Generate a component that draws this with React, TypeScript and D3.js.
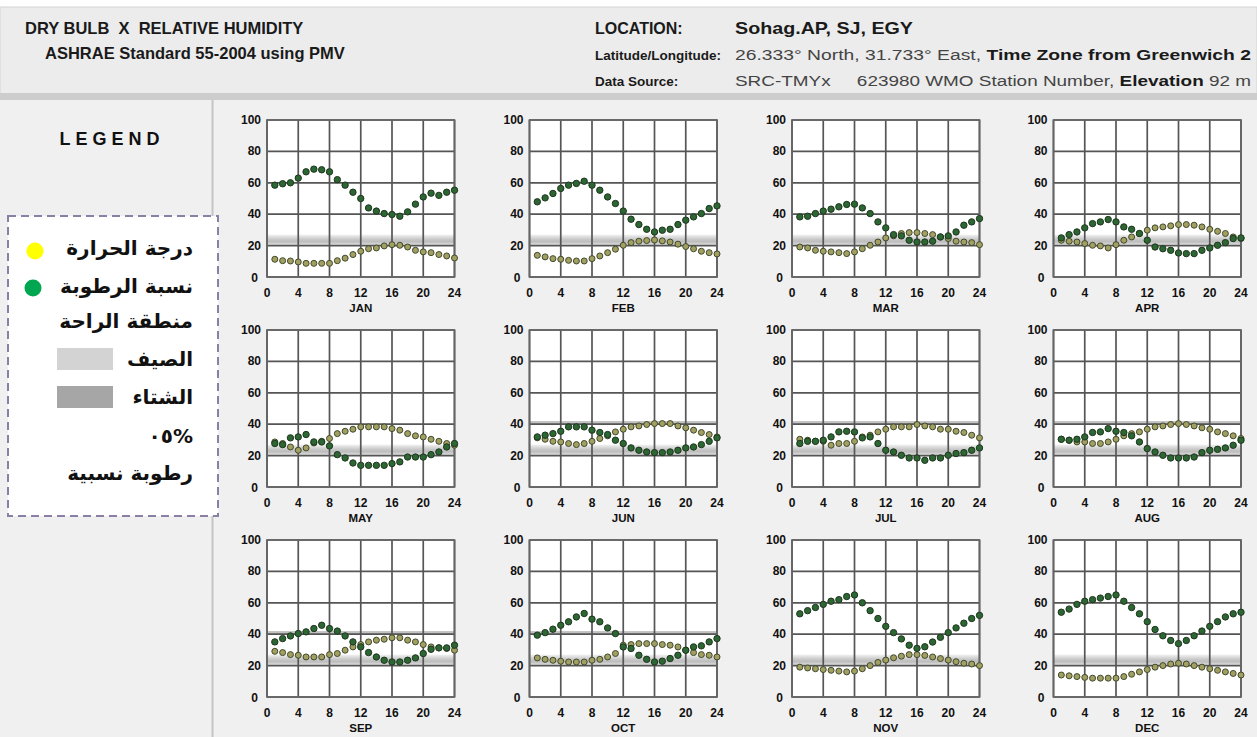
import React, { useEffect, useRef } from 'react';
import * as d3 from 'd3';

// month panels, 4 per row
const months = ['JAN', 'FEB', 'MAR', 'APR', 'MAY', 'JUN', 'JUL', 'AUG', 'SEP', 'OCT', 'NOV', 'DEC'];
const hours = [1, 2, 3, 4, 5, 6, 7, 8, 9, 10, 11, 12, 13, 14, 15, 16, 17, 18, 19, 20, 21, 22, 23, 24];
const xTicks = [0, 4, 8, 12, 16, 20, 24];
const yTicks = [0, 20, 40, 60, 80, 100];

// dry bulb temperature (°C) by hour, one row per month
const dryBulb: number[][] = [
  [11.3, 10.4, 10.2, 9.6, 8.7, 8.7, 8.7, 8.7, 10.4, 12, 14.3, 16.4, 18, 18.5, 19.8, 20.6, 20.2, 19.1, 17, 16, 15.5, 14.3, 13.4, 12.1],
  [13.8, 12.8, 11.7, 11.3, 10.6, 10.2, 10.2, 11.7, 13.4, 15.5, 17.7, 20.2, 21.9, 22.8, 23.2, 23.6, 23, 22.3, 20.9, 19.4, 18, 16.4, 15.5, 14.7],
  [19.1, 18.5, 17, 16.4, 16, 15.5, 14.9, 16, 18, 20.2, 22.3, 24.9, 26.2, 27.7, 28.3, 28.3, 27.7, 27, 25.5, 24.5, 22.8, 22.3, 21.9, 20.6],
  [23.4, 22.8, 22.3, 21.3, 20.2, 19.8, 18.5, 20.6, 23.4, 25.5, 27.7, 29.8, 31.3, 31.9, 32.6, 33.4, 33.4, 33, 31.9, 30.4, 29.1, 27.7, 25.5, 24.5],
  [28.7, 27.7, 25.5, 23.4, 24.9, 28, 29.1, 30.9, 34, 35.5, 36.8, 38.3, 38.3, 38.3, 38.3, 37.2, 36.2, 34, 32.6, 31.9, 30.4, 29.1, 27.7, 26.6],
  [31.3, 30.4, 29.1, 28.7, 27.7, 27, 27.7, 29.1, 30.9, 32.6, 35.1, 36.8, 38.3, 38.9, 39.8, 40.4, 40.4, 40.4, 38.9, 37.7, 36.2, 34.7, 33.4, 31.9],
  [30.4, 29.8, 29.1, 29.1, 26.6, 27.7, 27.7, 29.1, 31.9, 33, 35.1, 36.8, 38.3, 38.3, 38.3, 39.8, 38.9, 38.3, 36.8, 36.8, 35.5, 34.7, 33, 31.3],
  [30.4, 29.8, 28.7, 28.7, 27.7, 27.7, 28.7, 30.4, 32.6, 34, 35.1, 36.8, 38.3, 38.9, 39.8, 40.4, 39.8, 38.9, 37.7, 36.8, 35.1, 34, 32.6, 30.9],
  [29.1, 28.3, 27, 26.6, 25.5, 25.5, 25.5, 27, 27.7, 29.8, 31.9, 33.4, 35.1, 36.2, 36.8, 37.7, 37.7, 36.2, 35.1, 33.4, 31.9, 31.3, 30.9, 29.8],
  [24.9, 24, 23.4, 22.8, 22.3, 22.3, 22.3, 23.4, 24, 25.5, 27.7, 33, 33.4, 34, 34, 34, 33.4, 33, 31.9, 29.8, 28.3, 27, 26.6, 25.5],
  [19, 18.5, 18, 17.5, 17, 16.5, 16, 16.5, 18, 20, 22, 23.5, 25, 26, 27, 27, 26.5, 25.5, 24.5, 23.5, 22.5, 21.5, 21, 20],
  [14, 13.5, 13, 12.5, 12, 12, 12, 12, 13, 14.5, 16, 17.5, 19, 20, 21, 21.5, 21, 20, 19, 18, 17, 16, 15, 14],
];

// relative humidity (%) by hour, one row per month
const relHumidity: number[][] = [
  [58.5, 59.4, 60, 63, 67, 68.7, 68.3, 67, 62, 58.5, 54, 50, 44, 42, 40.4, 39.8, 38.7, 41.5, 46.4, 51, 53.4, 52, 54, 55.3],
  [47.9, 50.4, 53.2, 56.4, 58.5, 59.6, 61, 58.5, 55.3, 51, 46.8, 42, 36.8, 33.4, 30.4, 28.7, 29.8, 30.4, 33.4, 36.2, 38.3, 40.4, 43.6, 45.3],
  [38.3, 38.7, 40.4, 42, 43.2, 44.7, 46.2, 46.4, 44, 40.4, 35.1, 31.3, 27, 26.2, 23.4, 22.3, 22.3, 22.8, 25.5, 26.2, 28.7, 33, 35.1, 37.2],
  [24.9, 27, 28.7, 31.3, 34, 35.1, 36.6, 35.1, 31.9, 30.4, 27.7, 23.4, 19.1, 18, 17, 15.3, 14.9, 14.9, 17, 18.5, 20.2, 21.9, 24.5, 24.9],
  [27.7, 27, 31.3, 31.9, 33.4, 28.7, 28.7, 26.2, 20.6, 18.5, 15.3, 13.8, 13.8, 13.8, 13.8, 14.9, 16, 19.1, 19.1, 19.1, 20.6, 22.3, 25.5, 27.7],
  [31.9, 33, 34, 35.5, 38.3, 38.3, 38.3, 36.2, 34.7, 33.4, 29.8, 27.7, 24.9, 23.4, 22.3, 21.9, 21.9, 22.3, 23.4, 24.9, 25.5, 27, 29.1, 31.3],
  [27.7, 29.1, 29.1, 29.8, 31.9, 35.1, 35.5, 35.1, 31.3, 31.9, 27.7, 23.4, 22.3, 20.2, 18.5, 18.5, 17, 18.5, 18.5, 20.2, 21.3, 21.9, 23.4, 24.9],
  [30.4, 29.8, 30.4, 31.9, 34.7, 35.1, 37.2, 35.5, 34.7, 32.6, 28.7, 24.5, 22.3, 20.2, 18.5, 18.5, 18.5, 19.1, 21.9, 23.4, 24, 24.9, 26.6, 29.8],
  [35.1, 37.2, 38.9, 40.4, 41.5, 43.6, 45.7, 43.6, 42, 38.9, 35.1, 31.9, 28.3, 25.5, 23.4, 22.3, 22.3, 23.4, 24.9, 27.7, 30.4, 31.3, 31.3, 33],
  [39.4, 41, 43.2, 45.7, 47.9, 51, 53.2, 49.6, 47.9, 44, 40.4, 31.9, 30.9, 26.6, 24, 22.3, 22.8, 24.5, 26.6, 29.8, 31.9, 32.6, 35.1, 37.2],
  [53, 55, 57, 59, 61, 62, 64, 65, 60, 55, 50, 45, 41, 37, 33, 31, 32, 35, 38, 41, 44, 47, 50, 52],
  [54, 56, 59, 61, 62, 63, 64, 65, 61, 57, 53, 48, 43, 39, 36, 34, 36, 39, 42, 45, 48, 51, 53, 54],
];

// comfort zone band and the summer upper edge
const comfortBand = [20.5, 27];
const summerEdge = [39.5, 42];
const summerMonths = ['JUN', 'JUL', 'AUG', 'SEP', 'OCT'];

const legendItems = ['درجة الحرارة', 'نسبة الرطوبة', 'منطقة الراحة', 'الصيف', 'الشتاء', '٠٥%', 'رطوبة نسبية'];

const W = 1257;
const H = 737;

const App = () => {
  const svgRef = useRef<SVGSVGElement>(null);

  useEffect(() => {
    if (!svgRef.current) return;
    const svg = d3.select(svgRef.current);
    svg.selectAll('*').remove();

    const defs = svg.append('defs');
    const grad = defs.append('linearGradient').attr('id', 'band').attr('x1', 0).attr('y1', 0).attr('x2', 0).attr('y2', 1);
    grad.append('stop').attr('offset', '0%').attr('stop-color', '#f2f2f2');
    grad.append('stop').attr('offset', '45%').attr('stop-color', '#c9c9c9');
    grad.append('stop').attr('offset', '70%').attr('stop-color', '#bdbdbd');
    grad.append('stop').attr('offset', '100%').attr('stop-color', '#dedede');

    // backgrounds
    svg.append('rect').attr('width', W).attr('height', H).attr('fill', '#f0f0f0');
    svg.append('rect').attr('x', 0).attr('y', 0).attr('width', W).attr('height', 7).attr('fill', '#ffffff');
    svg.append('rect').attr('x', 0).attr('y', 7).attr('width', W).attr('height', 87)
      .attr('fill', '#ececec').attr('stroke', '#d4d4d4');
    svg.append('rect').attr('x', 0).attr('y', 93).attr('width', W).attr('height', 7).attr('fill', '#cdcdcd');
    svg.append('line').attr('x1', 212.5).attr('x2', 212.5).attr('y1', 100).attr('y2', H)
      .attr('stroke', '#c4c4c4').attr('stroke-width', 2);

    // header
    const font = '"Liberation Sans", Arial, sans-serif';
    const hdr = svg.append('g').attr('font-family', font).attr('fill', '#1a1a1a');
    hdr.append('text').attr('x', 25).attr('y', 34).attr('font-size', 16.5).attr('font-weight', 'bold')
      .attr('xml:space', 'preserve').text('DRY BULB  X  RELATIVE HUMIDITY');
    hdr.append('text').attr('x', 45).attr('y', 59).attr('font-size', 16.5).attr('font-weight', 'bold')
      .text('ASHRAE Standard 55-2004 using PMV');
    hdr.append('text').attr('x', 595).attr('y', 34).attr('font-size', 16).attr('font-weight', 'bold').text('LOCATION:');
    hdr.append('text').attr('x', 735).attr('y', 34).attr('font-size', 17).attr('font-weight', 'bold')
      .attr('textLength', 178).attr('lengthAdjust', 'spacingAndGlyphs').text('Sohag.AP, SJ, EGY');
    hdr.append('text').attr('x', 595).attr('y', 60).attr('font-size', 13.5).attr('font-weight', 'bold').text('Latitude/Longitude:');
    hdr.append('text').attr('x', 595).attr('y', 86).attr('font-size', 13.5).attr('font-weight', 'bold').text('Data Source:');
    const l1 = hdr.append('text').attr('x', 735).attr('y', 60).attr('font-size', 14).attr('xml:space', 'preserve')
      .attr('textLength', 516).attr('lengthAdjust', 'spacingAndGlyphs');
    l1.append('tspan').attr('fill', '#444').text('26.333° North, 31.733° East, ');
    l1.append('tspan').attr('font-weight', 'bold').text('Time Zone from Greenwich 2');
    const l2 = hdr.append('text').attr('x', 735).attr('y', 86).attr('font-size', 14).attr('xml:space', 'preserve')
      .attr('textLength', 516).attr('lengthAdjust', 'spacingAndGlyphs');
    l2.append('tspan').attr('fill', '#444').text('SRC-TMYx     623980 WMO Station Number, ');
    l2.append('tspan').attr('font-weight', 'bold').text('Elevation');
    l2.append('tspan').attr('fill', '#444').text(' 92 m');

    // legend column
    svg.append('text').attr('x', 112).attr('y', 145).attr('text-anchor', 'middle')
      .attr('font-family', font).attr('font-weight', 'bold').attr('font-size', 18)
      .attr('letter-spacing', 5).attr('fill', '#111').text('LEGEND');
    svg.append('rect').attr('x', 8).attr('y', 216).attr('width', 210).attr('height', 300)
      .attr('fill', '#ffffff').attr('stroke', '#8a80a6').attr('stroke-width', 2).attr('stroke-dasharray', '8,5');

    const arFont = '"DejaVu Sans", "Noto Sans", sans-serif';
    const legendY = [255, 293, 328, 366, 404, 443, 480];
    const lg = svg.append('g').attr('font-family', arFont).attr('font-weight', 'bold').attr('font-size', 20).attr('fill', '#111');
    legendItems.forEach((t, i) => {
      const txt = lg.append('text').attr('x', 193).attr('y', legendY[i]).attr('text-anchor', 'end').text(t);
      if (i === 5) txt.attr('style', 'unicode-bidi: bidi-override; direction: ltr');
    });
    svg.append('circle').attr('cx', 35).attr('cy', 251).attr('r', 8.5).attr('fill', '#ffff00');
    svg.append('circle').attr('cx', 33).attr('cy', 288).attr('r', 8.5).attr('fill', '#00a650');
    svg.append('rect').attr('x', 57).attr('y', 348).attr('width', 56).attr('height', 22).attr('fill', '#d3d3d3');
    svg.append('rect').attr('x', 57).attr('y', 386).attr('width', 56).attr('height', 22).attr('fill', '#a6a6a6');

    // panels
    const pw = 187.5;
    const ph = 157;
    const colX = [267, 529.5, 792, 1053.5];
    const rowY = [120, 330, 540];
    const x = d3.scaleLinear().domain([0, 24]).range([0, pw]);
    const y = d3.scaleLinear().domain([0, 100]).range([ph, 0]);

    months.forEach((m, mi) => {
      const g = svg.append('g')
        .attr('transform', `translate(${colX[mi % 4]},${rowY[Math.floor(mi / 4)]})`);
      g.append('rect').attr('width', pw).attr('height', ph).attr('fill', '#ffffff');

      g.append('rect').attr('x', 0).attr('width', pw)
        .attr('y', y(comfortBand[1])).attr('height', y(comfortBand[0]) - y(comfortBand[1]))
        .attr('fill', 'url(#band)');
      if (summerMonths.includes(m)) {
        g.append('rect').attr('x', 0).attr('width', pw)
          .attr('y', y(summerEdge[1])).attr('height', y(summerEdge[0]) - y(summerEdge[1]))
          .attr('fill', '#c2c2c2');
      }

      g.selectAll('.gx').data(xTicks).enter().append('line')
        .attr('x1', d => x(d)).attr('x2', d => x(d)).attr('y1', 0).attr('y2', ph)
        .attr('stroke', '#555').attr('stroke-width', 1.7);
      g.selectAll('.gy').data(yTicks).enter().append('line')
        .attr('x1', 0).attr('x2', pw).attr('y1', d => y(d)).attr('y2', d => y(d))
        .attr('stroke', '#555').attr('stroke-width', 1.7);
      g.append('rect').attr('width', pw).attr('height', ph).attr('fill', 'none')
        .attr('stroke', '#666').attr('stroke-width', 1.7);

      g.selectAll('.yl').data(yTicks).enter().append('text')
        .attr('x', d => (d === 0 ? -9 : -6)).attr('y', d => y(d) + (d === 0 ? 5 : 4))
        .attr('text-anchor', 'end').attr('font-family', font).attr('font-weight', 'bold')
        .attr('font-size', 12).attr('fill', '#111').text(d => d);
      g.selectAll('.xl').data(xTicks).enter().append('text')
        .attr('x', d => x(d)).attr('y', ph + 20)
        .attr('text-anchor', 'middle').attr('font-family', font).attr('font-weight', 'bold')
        .attr('font-size', 12).attr('fill', '#111').text(d => d);
      g.append('text').attr('x', pw / 2).attr('y', ph + 35).attr('text-anchor', 'middle')
        .attr('font-family', font).attr('font-weight', 'bold').attr('font-size', 11.5)
        .attr('fill', '#111').text(m);

      g.selectAll('.t').data(hours).enter().append('circle')
        .attr('cx', h => x(h)).attr('cy', (h, i) => y(dryBulb[mi][i])).attr('r', 3)
        .attr('fill', '#a39f63').attr('stroke', '#3f4a2a').attr('stroke-width', 1);
      g.selectAll('.rh').data(hours).enter().append('circle')
        .attr('cx', h => x(h)).attr('cy', (h, i) => y(relHumidity[mi][i])).attr('r', 3.2)
        .attr('fill', '#2c6632').attr('stroke', '#1f361f').attr('stroke-width', 1);
    });
  }, []);

  return (
    <div style={{ position: 'fixed', left: 0, top: 0, width: W, height: H }}>
      <svg ref={svgRef} width={W} height={H} style={{ display: 'block' }} />
    </div>
  );
};

export default App;
